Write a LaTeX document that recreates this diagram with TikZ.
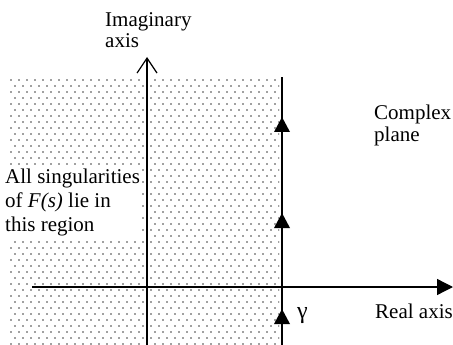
\documentclass[tikz,border=0pt]{standalone}
\usepackage{fontspec}
\setmainfont{Liberation Serif}
\usetikzlibrary{arrows.meta}
\begin{document}
\begin{tikzpicture}[x=1pt,y=-1pt,
  lbl/.style={font=\fontsize{21}{24}\selectfont, inner sep=0pt, anchor=base west},
  axisline/.style={line width=1.3pt},
  dotfill/.style={fill=black!75},
  uptri/.pic={\fill (-8,7.5) -- (8,7.5) -- (0,-7.5) -- cycle;}]
\useasboundingbox (0,0) rectangle (453,345);
% dotted region
\begin{scope}
\clip (8,76) rectangle (279,346);
\foreach \j in {0,...,44}{
  \foreach \i in {0,...,34}{
    \fill[dotfill] ({11+8*\i+4*mod(\j,2)},{80+6*\j}) circle[radius=0.95pt];
  }
}
\end{scope}
% label of region
\node[fill=white, align=left, anchor=north west, inner sep=2pt,
      font=\fontsize{21}{24}\selectfont] (sing) at (3,167)
  {All singularities\\of \textit{F(s)} lie in\\this region};
% axes
\coordinate (ibot) at (147,345);
\coordinate (itop) at (147,57);
\coordinate (rleft) at (32,287);
\coordinate (rright) at (453,287);
\draw[axisline, -{Straight Barb[length=15pt,width=20pt,line width=1.2pt]}] (ibot) -- (itop);
\draw[axisline, -{Triangle[length=16pt,width=16pt]}] (rleft) -- (rright);
% contour gamma
\coordinate (gbot) at (282,345);
\coordinate (gtop) at (282,77);
\draw[line width=2pt] (gbot) -- (gtop);
\pic at (282,124.5) {uptri};
\pic at (282,220.5) {uptri};
\pic at (282,316.5) {uptri};
% texts
\node[lbl] (im1) at (105,27) {Imaginary};
\node[lbl] (im2) at (105,48) {axis};
\node[lbl] (cp1) at (374,120) {Complex};
\node[lbl] (cp2) at (374,142) {plane};
\node[lbl] (real) at (375,318) {Real axis};
\node[lbl, font=\fontsize{24}{24}\selectfont] (gam) at (297,318) {γ};
\end{tikzpicture}
\end{document}
